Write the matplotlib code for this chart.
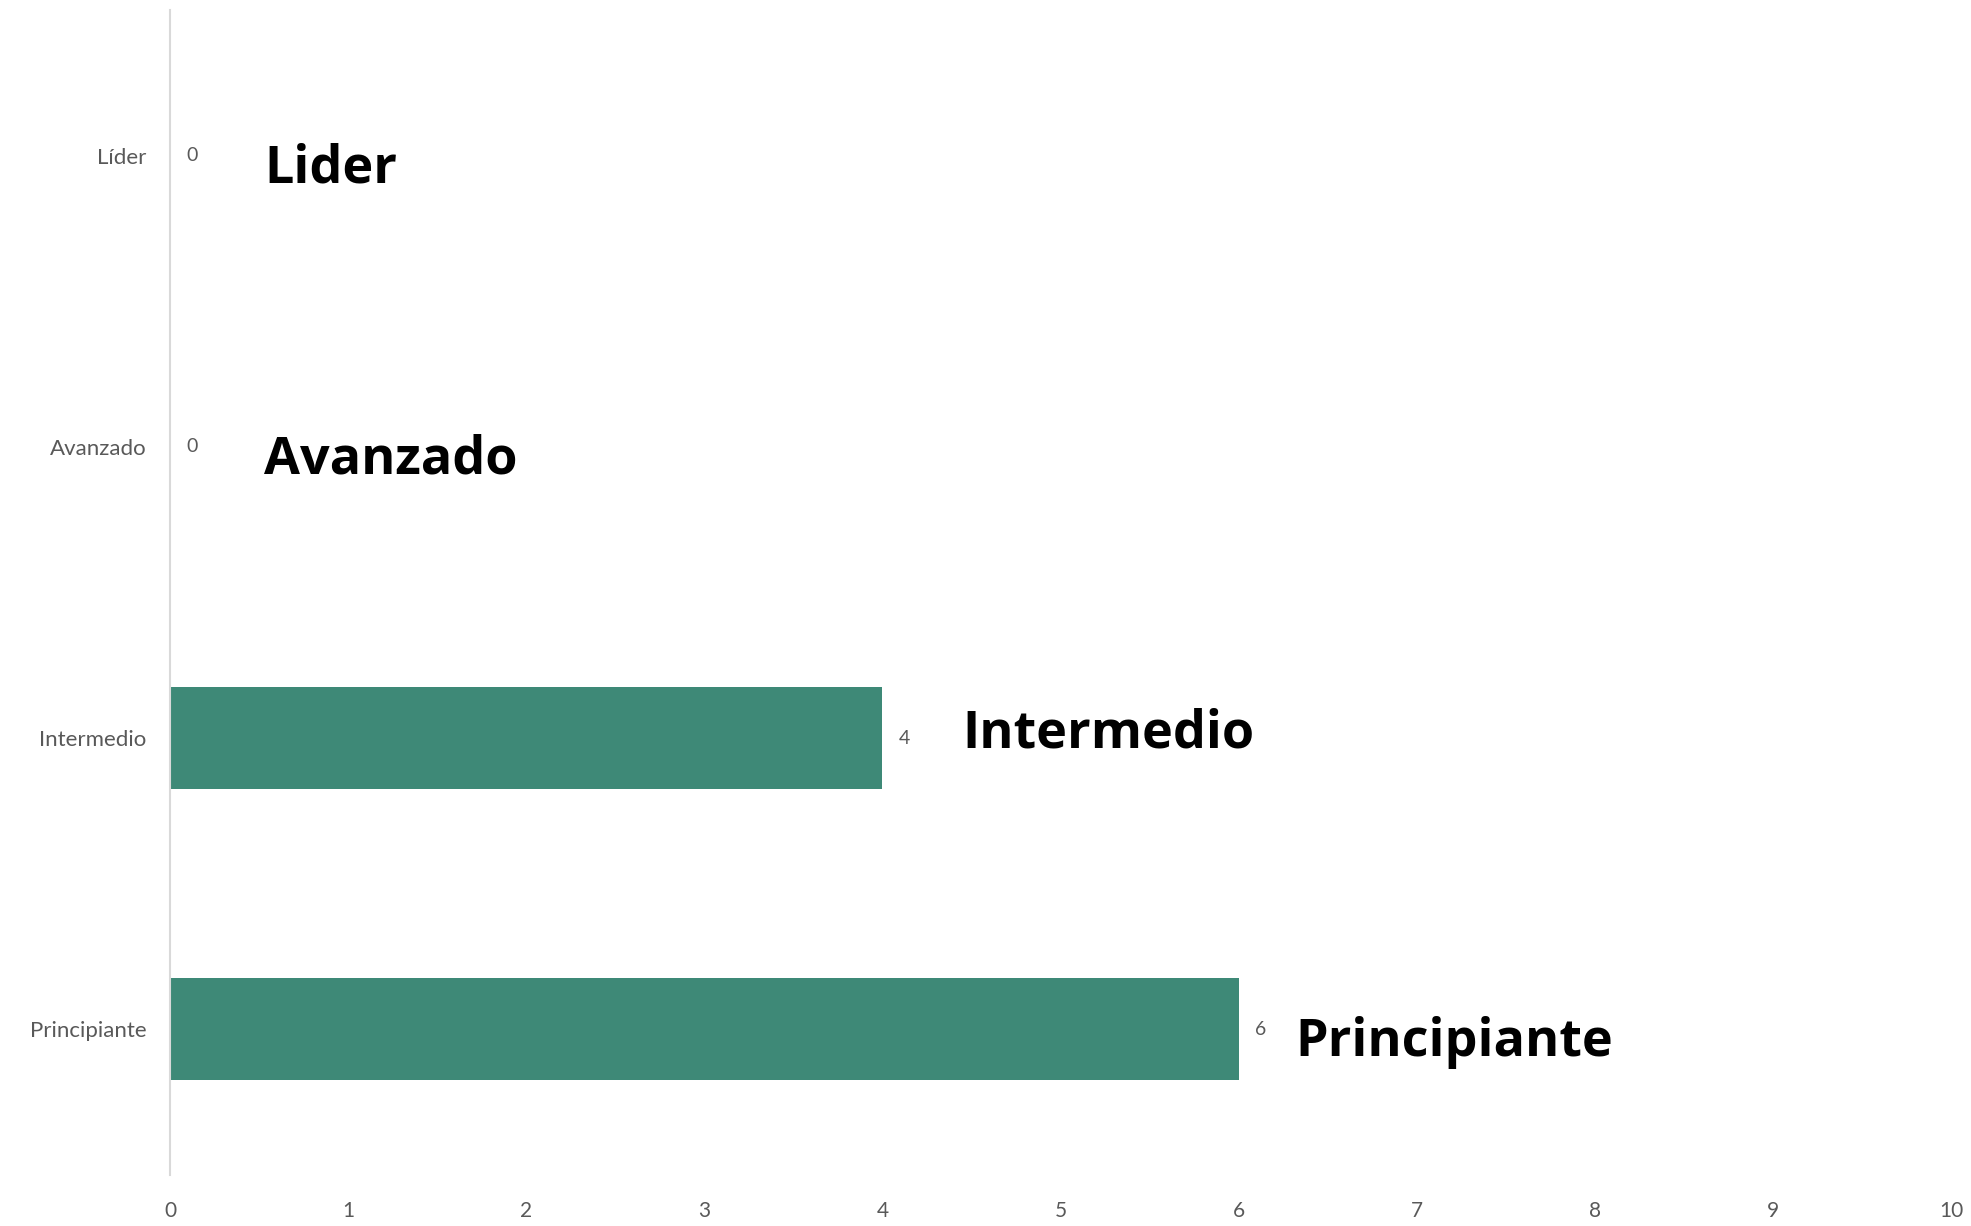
import matplotlib.pyplot as plt

# data
categories = ["Principiante", "Intermedio", "Avanzado", "Líder"]
values = [6, 4, 0, 0]
big_labels = ["Principiante", "Intermedio", "Avanzado", "Lider"]
big_label_x = [6.32, 4.45, 0.53, 0.53]
big_label_dy = [-0.045, 0.015, -0.045, -0.045]
x_ticks = list(range(0, 11))

BAR_COLOR = "#3E8977"
TEXT_GRAY = "#595959"

fig = plt.figure(figsize=(19.71, 12.26), dpi=100)
ax = fig.add_axes([170 / 1971, 1 - 1175 / 1226, (1951 - 170) / 1971, (1175 - 10) / 1226])

ypos = list(range(len(categories)))
ax.barh(ypos, values, height=0.35, color=BAR_COLOR)

ax.set_xlim(0, 10)
ax.set_ylim(-0.5, 3.5)
ax.set_xticks(x_ticks)
ax.set_xticklabels([str(t) for t in x_ticks], fontsize=15, color=TEXT_GRAY, family="Lato")
ax.set_yticks(ypos)
ax.set_yticklabels(categories, fontsize=16, color=TEXT_GRAY, family="Lato")
ax.tick_params(axis="x", length=0, pad=19)
ax.tick_params(axis="y", length=0, pad=17)

for s in ["top", "right", "bottom"]:
    ax.spines[s].set_visible(False)
ax.spines["left"].set_color("#d9d9d9")
ax.spines["left"].set_linewidth(1.5)

# small value labels next to each bar
for y, v in zip(ypos, values):
    ax.text(v + 0.09, y, str(v), va="center", ha="left", fontsize=14,
            color=TEXT_GRAY, family="Lato")

# big bold category labels
for y, txt, bx, dy in zip(ypos, big_labels, big_label_x, big_label_dy):
    ax.text(bx, y + dy, txt, va="center", ha="left", fontsize=37.5,
            fontweight="bold", color="black", family="Open Sans")

fig.savefig("out.png", dpi=100, facecolor="white")
